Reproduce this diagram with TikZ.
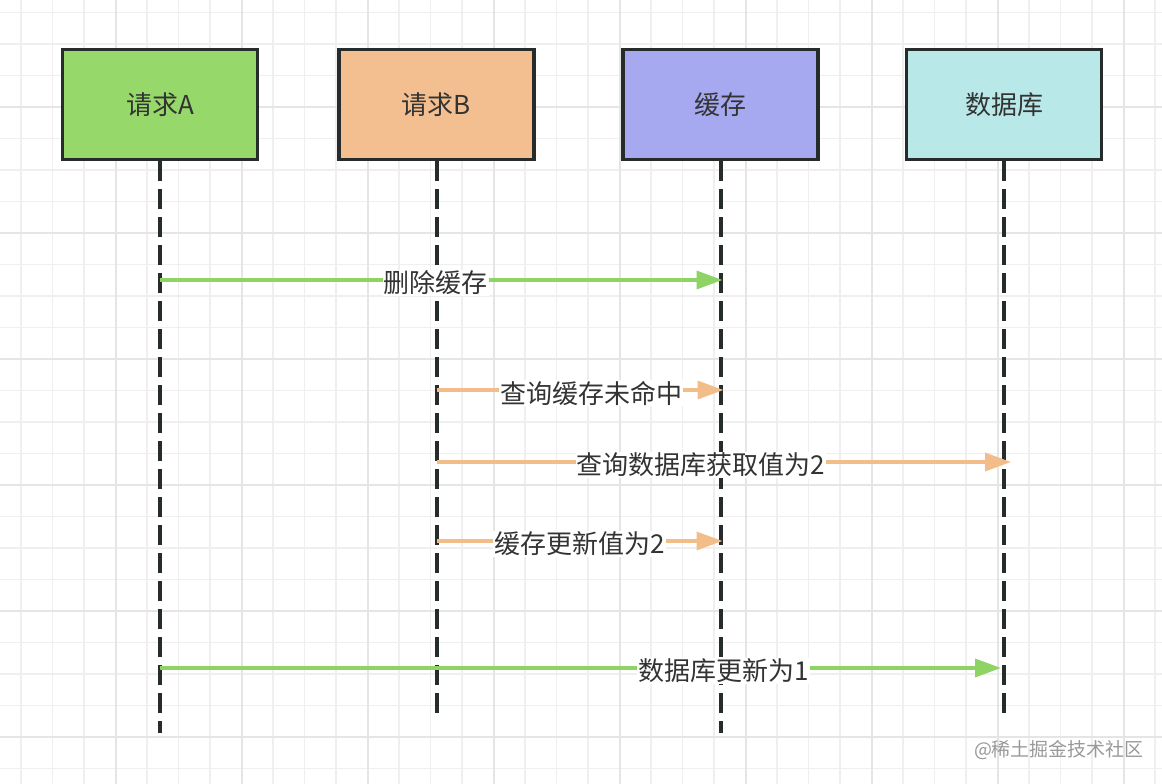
\documentclass[tikz,border=0pt]{standalone}
\usepackage{fontspec}
\setmainfont{Noto Sans CJK SC}
\usetikzlibrary{arrows.meta}

\definecolor{gridminor}{HTML}{EFEFEF}
\definecolor{gridmajor}{HTML}{E5E5E5}
\definecolor{edge}{HTML}{262B2B}
\definecolor{txt}{HTML}{333333}
\definecolor{fillA}{HTML}{97D86A}
\definecolor{fillB}{HTML}{F3BF90}
\definecolor{fillC}{HTML}{A6A9F0}
\definecolor{fillD}{HTML}{B8E9E8}
\definecolor{lineA}{HTML}{8ED464}
\definecolor{lineB}{HTML}{F3BD8A}

\begin{document}
\begin{tikzpicture}[
x=1pt, y=-1pt,
every node/.style = {text=txt, font=\fontsize{26}{31}\selectfont},
actor/.style = {shape=rectangle, draw=edge, line width=3.5pt,
  minimum width=195pt, minimum height=110pt},
life/.style = {draw=edge, line width=4pt, dash pattern=on 20pt off 8pt},
msgA/.style = {draw=lineA, line width=3.5pt, -{Triangle[length=26pt,width=18pt]}},
msgB/.style = {draw=lineB, line width=3.5pt, -{Triangle[length=26pt,width=18pt]}},
lbl/.style = {fill=white, inner sep=1pt, yshift=-3pt},
]
  \useasboundingbox (0,0) rectangle (1162,784);
  \fill[white] (0,0) rectangle (1162,784);
  % grid
  \foreach \x in {0,...,36}
    \draw[gridminor, line width=1.5pt] (21+31.5*\x,0) -- (21+31.5*\x,784);
  \foreach \y in {0,...,24}
    \draw[gridminor, line width=1.5pt] (0,12.5+31.5*\y) -- (1162,12.5+31.5*\y);
  \foreach \x in {116,242,...,1124}
    \draw[gridmajor, line width=1.5pt] (\x,0) -- (\x,784);
  \foreach \y in {107,233,...,737}
    \draw[gridmajor, line width=1.5pt] (0,\y) -- (1162,\y);

  % participants
  \node[actor, fill=fillA] (reqA) at (160,104.5) {请求A};
  \node[actor, fill=fillB] (reqB) at (436.5,104.5) {请求B};
  \node[actor, fill=fillC] (cache) at (720.5,104.5) {缓存};
  \node[actor, fill=fillD] (db) at (1004,104.5) {数据库};

  % lifelines
  \draw[life] (reqA.south) -- (reqA |- 0,733);
  \draw[life] (reqB.south) -- (reqB |- 0,720);
  \draw[life] (cache.south) -- (cache |- 0,733);
  \draw[life] (db.south) -- (db |- 0,720);

  % messages
  \draw[msgA] (reqA |- 0,280) -- node[lbl, pos=0.49]{删除缓存} ([xshift=2pt]cache |- 0,280);
  \draw[msgB] (reqB |- 0,390) -- node[lbl, pos=0.54]{查询缓存未命中} ([xshift=3pt]cache |- 0,390);
  \draw[msgB] (reqB |- 0,462) -- node[lbl, pos=0.46]{查询数据库获取值为2} ([xshift=7pt]db |- 0,462);
  \draw[msgB] (reqB |- 0,541) -- node[lbl, pos=0.50]{缓存更新值为2} ([xshift=2pt]cache |- 0,541);
  \draw[msgA] (reqA |- 0,668) -- node[lbl, pos=0.67]{数据库更新为1} ([xshift=-3pt]db |- 0,668);

  \node[text=black!40, font=\fontsize{19}{22}\selectfont] (mark) at (1059,750) {@稀土掘金技术社区};
\end{tikzpicture}
\end{document}
